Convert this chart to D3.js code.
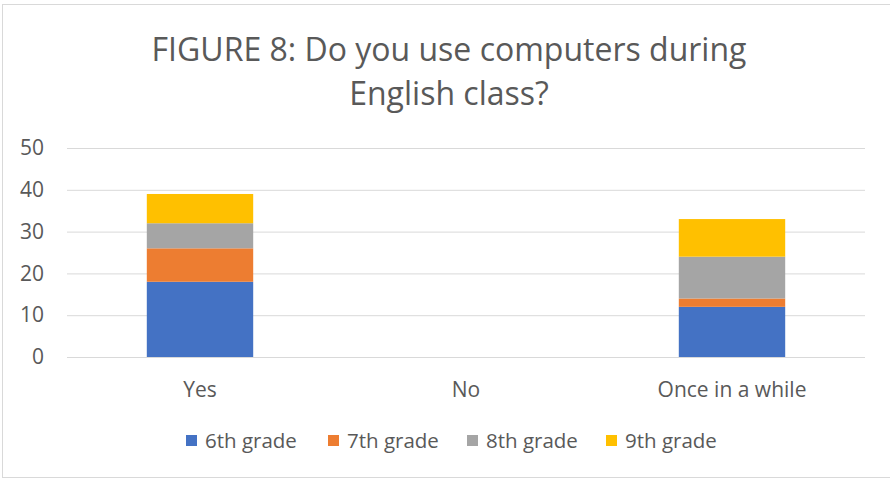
<!DOCTYPE html>
<html>
<head>
<meta charset="utf-8">
<script src="https://cdn.jsdelivr.net/npm/d3@7"></script>
<style>
  html, body { margin: 0; padding: 0; background: #fff; }
  svg { display: block; font-family: "Open Sans", "Noto Sans", sans-serif; }
</style>
</head>
<body>
<svg id="chart" width="890" height="480"></svg>
<script>
// Survey answers by grade
const categories = ["Yes", "No", "Once in a while"];
const seriesNames = ["6th grade", "7th grade", "8th grade", "9th grade"];
const grade6 = [18, 0, 12];
const grade7 = [8, 0, 2];
const grade8 = [6, 0, 10];
const grade9 = [7, 0, 9];
const yTicks = [0, 10, 20, 30, 40, 50];
const titleLines = ["FIGURE 8: Do you use computers during", "English class?"];

const colors = ["#4472c4", "#ed7d31", "#a5a5a5", "#ffc000"];
const textColor = "#595959";
const gridColor = "#d9d9d9";

const svg = d3.select("#chart");
const W = 890, H = 480;

// outer chart border
svg.append("rect")
  .attr("x", 2.5).attr("y", 4.5)
  .attr("width", W - 2).attr("height", H - 7)
  .attr("fill", "#fff").attr("stroke", gridColor).attr("stroke-width", 1);

// title
svg.append("g").selectAll("text")
  .data(titleLines)
  .join("text")
  .attr("x", 449)
  .attr("y", (d, i) => 61 + i * 44)
  .attr("text-anchor", "middle")
  .attr("fill", textColor)
  .attr("font-size", 32)
  .attr("font-weight", 400)
  .text(d => d);

const plot = { left: 67, right: 865, top: 148, bottom: 357 };

const x = d3.scaleBand()
  .domain(categories)
  .range([plot.left, plot.right])
  .paddingInner(0.6)
  .paddingOuter(0.3);

const y = d3.scaleLinear()
  .domain([0, 50])
  .range([plot.bottom, plot.top]);

// gridlines + y labels
const yAxis = d3.axisLeft(y)
  .tickValues(yTicks)
  .tickSize(-(plot.right - plot.left))
  .tickPadding(23)
  .tickFormat(d3.format("d"));

const gy = svg.append("g")
  .attr("transform", `translate(${plot.left},0)`)
  .call(yAxis);
gy.select(".domain").remove();
gy.selectAll(".tick line").attr("stroke", gridColor).attr("stroke-width", 1);
gy.selectAll(".tick text")
  .attr("fill", textColor)
  .attr("font-size", 21)
  .attr("font-family", "'Open Sans', sans-serif");

// stacked bars
const table = categories.map((c, i) => ({
  category: c,
  [seriesNames[0]]: grade6[i],
  [seriesNames[1]]: grade7[i],
  [seriesNames[2]]: grade8[i],
  [seriesNames[3]]: grade9[i]
}));
const stacked = d3.stack().keys(seriesNames)(table);

svg.append("g").selectAll("g")
  .data(stacked)
  .join("g")
  .attr("fill", (d, i) => colors[i])
  .selectAll("rect")
  .data(d => d)
  .join("rect")
  .attr("x", d => x(d.data.category))
  .attr("width", x.bandwidth())
  .attr("y", d => y(d[1]))
  .attr("height", d => y(d[0]) - y(d[1]));

// category axis
const xAxis = d3.axisBottom(x).tickSize(0).tickPadding(0);
const gx = svg.append("g")
  .attr("transform", `translate(0,${plot.bottom})`)
  .call(xAxis);
gx.select(".domain")
  .attr("d", `M${plot.left},0.5H${plot.right}`)
  .attr("stroke", gridColor);
gx.selectAll(".tick text")
  .attr("y", 40)
  .attr("dy", 0)
  .attr("fill", textColor)
  .attr("font-size", 21)
  .attr("font-family", "'Open Sans', sans-serif");

// legend
const legendX = [186, 328, 467, 606];
const legend = svg.append("g").selectAll("g")
  .data(seriesNames)
  .join("g")
  .attr("transform", (d, i) => `translate(${legendX[i]},435)`);
legend.append("rect")
  .attr("width", 11).attr("height", 11)
  .attr("fill", (d, i) => colors[i]);
legend.append("text")
  .attr("x", 19).attr("y", 13)
  .attr("fill", textColor)
  .attr("font-size", 20.5)
  .text(d => d);
</script>
</body>
</html>
